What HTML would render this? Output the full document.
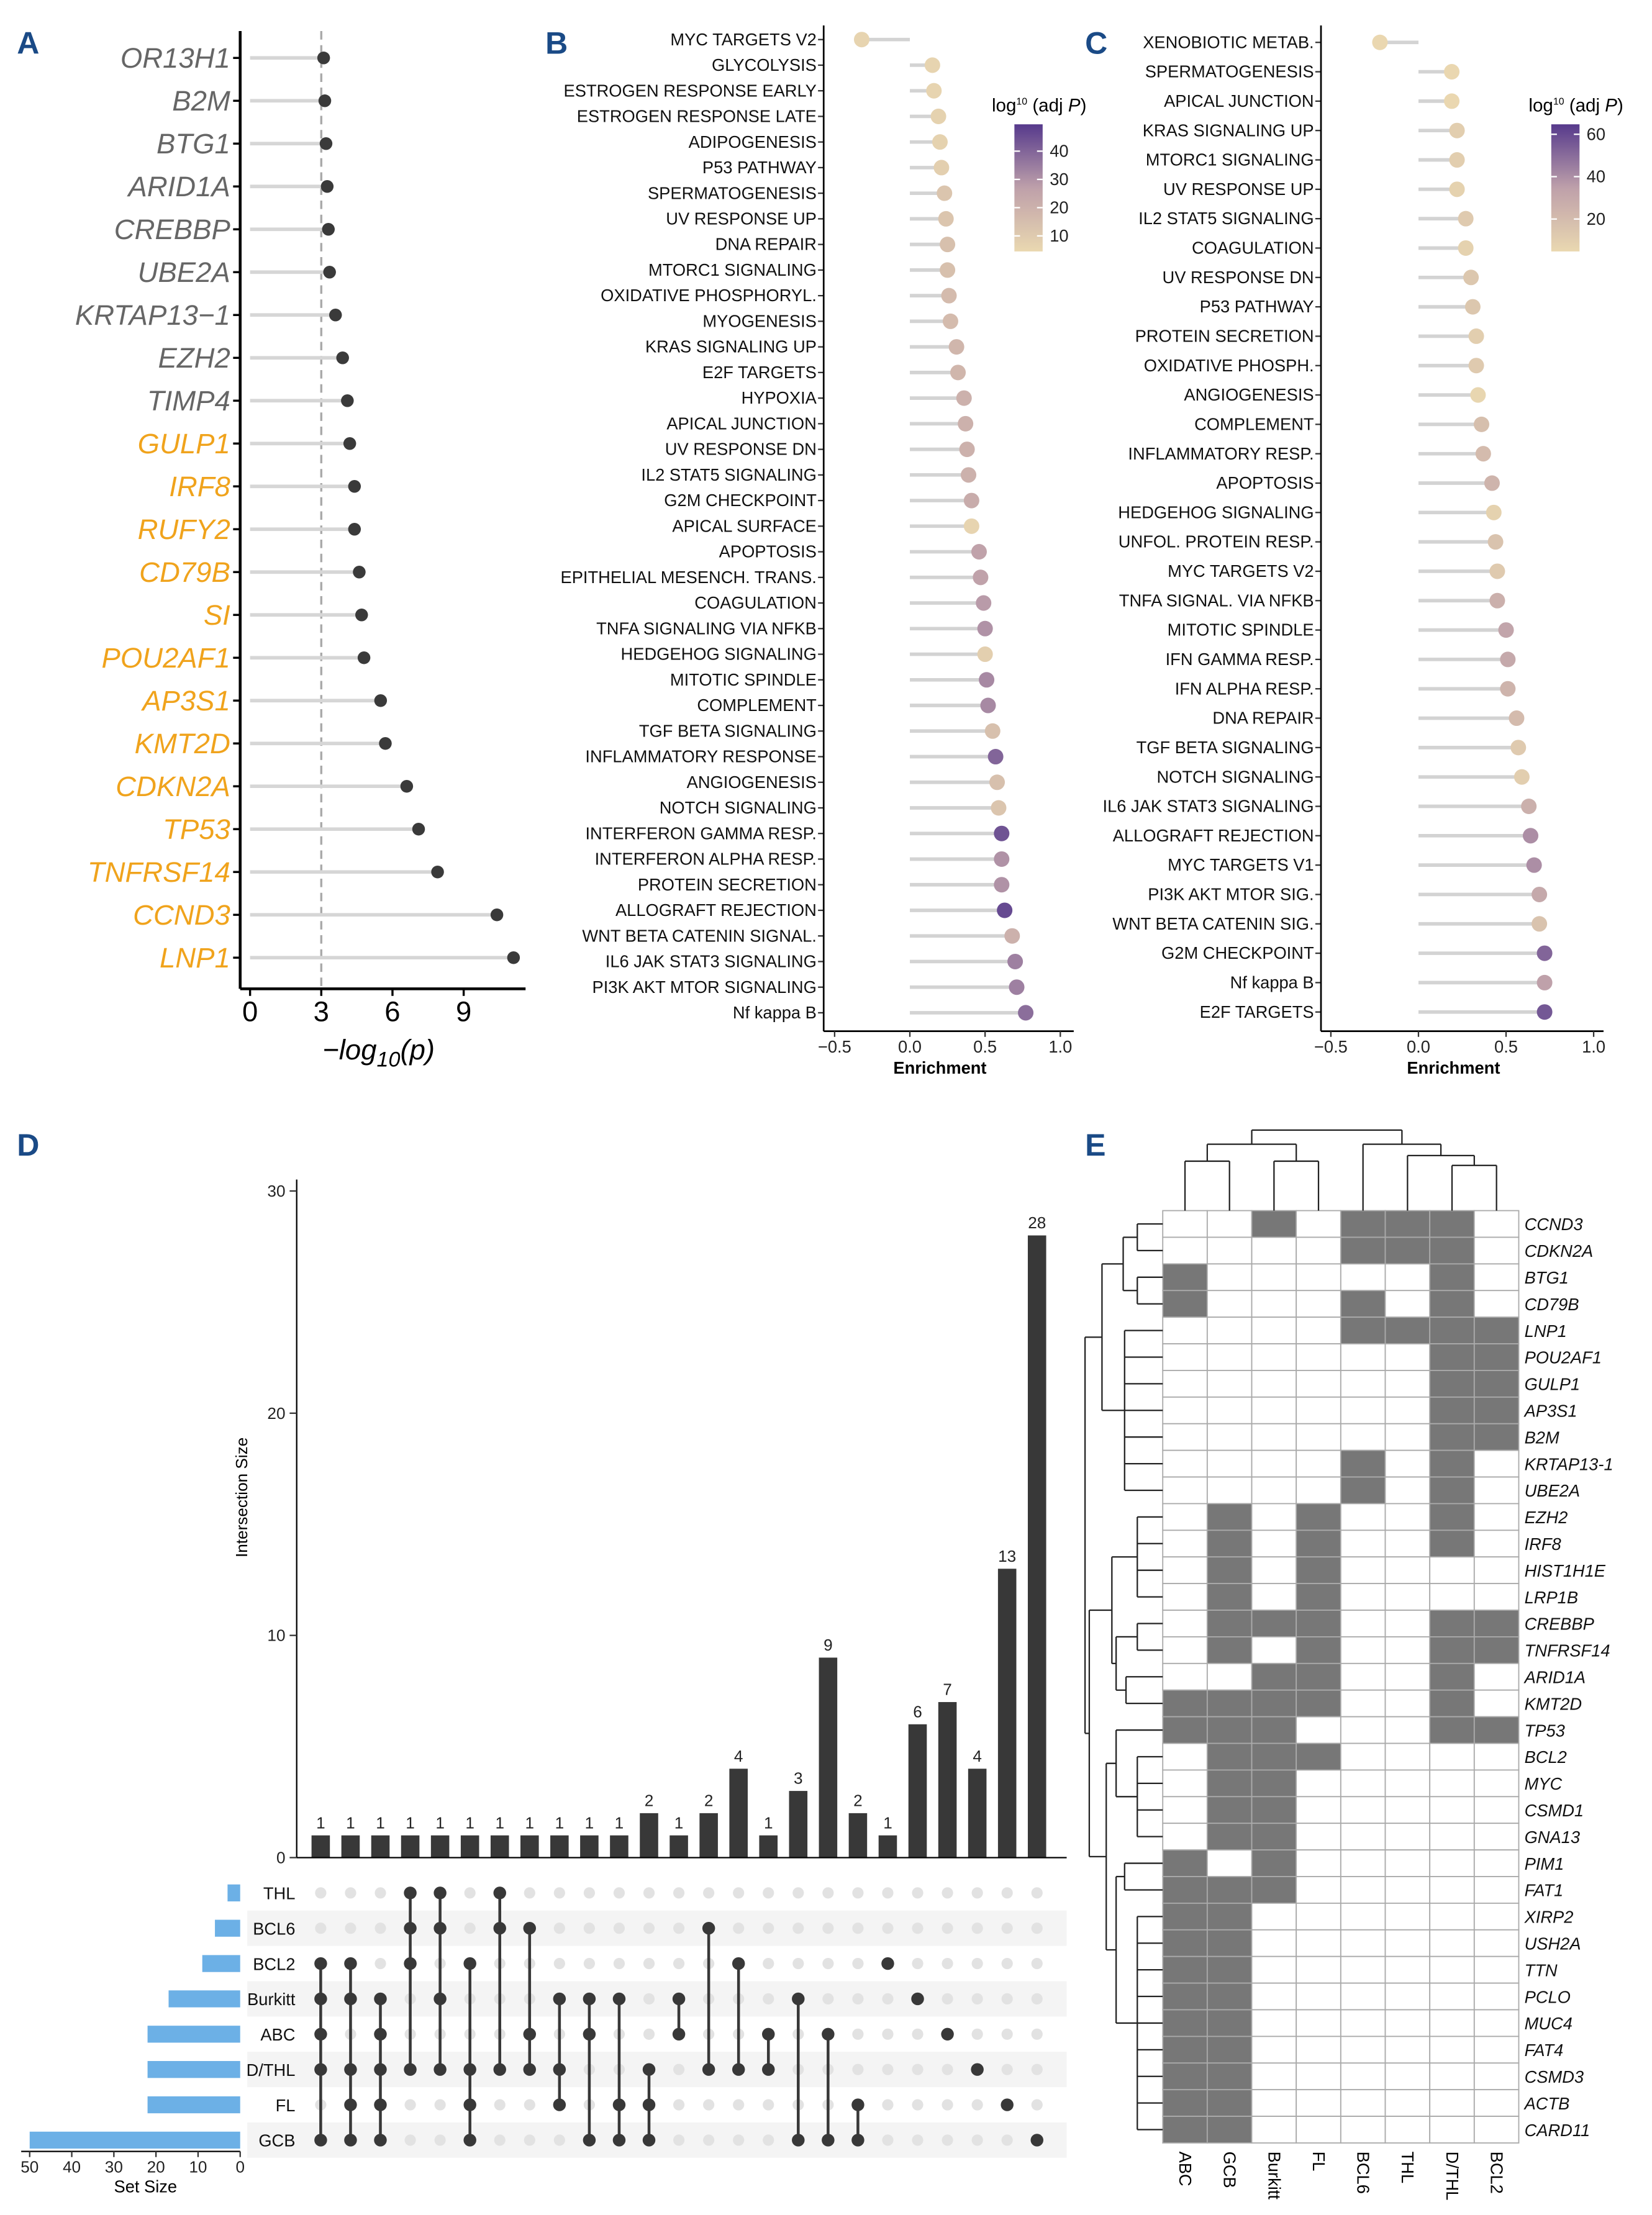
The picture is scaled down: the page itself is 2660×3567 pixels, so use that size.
<!DOCTYPE html>
<html><head><meta charset="utf-8"><style>
html,body{margin:0;padding:0;background:#fff}
svg{display:block;font-family:"Liberation Sans",sans-serif}
</style></head><body>
<svg id="fig" xmlns="http://www.w3.org/2000/svg" width="2660" height="3567" viewBox="0 0 1169.3 1568"></svg>
<script>
// ---------- DATA ----------
const genesA=["OR13H1","B2M","BTG1","ARID1A","CREBBP","UBE2A","KRTAP13−1","EZH2","TIMP4","GULP1","IRF8","RUFY2","CD79B","SI","POU2AF1","AP3S1","KMT2D","CDKN2A","TP53","TNFRSF14","CCND3","LNP1"];
const valuesA=[3.1,3.15,3.2,3.25,3.3,3.35,3.6,3.9,4.1,4.2,4.4,4.4,4.6,4.7,4.8,5.5,5.7,6.6,7.1,7.9,10.4,11.1];
const highlightA=[0,0,0,0,0,0,0,0,0,1,1,1,1,1,1,1,1,1,1,1,1,1];
const ticksA=[0,3,6,9];

const labelsB=["MYC TARGETS V2","GLYCOLYSIS","ESTROGEN RESPONSE EARLY","ESTROGEN RESPONSE LATE","ADIPOGENESIS","P53 PATHWAY","SPERMATOGENESIS","UV RESPONSE UP","DNA REPAIR","MTORC1 SIGNALING","OXIDATIVE PHOSPHORYL.","MYOGENESIS","KRAS SIGNALING UP","E2F TARGETS","HYPOXIA","APICAL JUNCTION","UV RESPONSE DN","IL2 STAT5 SIGNALING","G2M CHECKPOINT","APICAL SURFACE","APOPTOSIS","EPITHELIAL MESENCH. TRANS.","COAGULATION","TNFA SIGNALING VIA NFKB","HEDGEHOG SIGNALING","MITOTIC SPINDLE","COMPLEMENT","TGF BETA SIGNALING","INFLAMMATORY RESPONSE","ANGIOGENESIS","NOTCH SIGNALING","INTERFERON GAMMA RESP.","INTERFERON ALPHA RESP.","PROTEIN SECRETION","ALLOGRAFT REJECTION","WNT BETA CATENIN SIGNAL.","IL6 JAK STAT3 SIGNALING","PI3K AKT MTOR SIGNALING","Nf kappa B"];
const enrichB=[-0.32,0.15,0.16,0.19,0.2,0.21,0.23,0.24,0.25,0.25,0.26,0.27,0.31,0.32,0.36,0.37,0.38,0.39,0.41,0.41,0.46,0.47,0.49,0.5,0.5,0.51,0.52,0.55,0.57,0.58,0.59,0.61,0.61,0.61,0.63,0.68,0.7,0.71,0.77];
const padjB=[6,6,6,7,7,8,12,12,14,14,16,16,18,18,20,20,20,20,22,6,26,26,28,30,8,32,32,14,40,14,12,44,30,30,46,20,34,34,38];
const legendTicksB=[10,20,30,40];

const labelsC=["XENOBIOTIC METAB.","SPERMATOGENESIS","APICAL JUNCTION","KRAS SIGNALING UP","MTORC1 SIGNALING","UV RESPONSE UP","IL2 STAT5 SIGNALING","COAGULATION","UV RESPONSE DN","P53 PATHWAY","PROTEIN SECRETION","OXIDATIVE PHOSPH.","ANGIOGENESIS","COMPLEMENT","INFLAMMATORY RESP.","APOPTOSIS","HEDGEHOG SIGNALING","UNFOL. PROTEIN RESP.","MYC TARGETS V2","TNFA SIGNAL. VIA NFKB","MITOTIC SPINDLE","IFN GAMMA RESP.","IFN ALPHA RESP.","DNA REPAIR","TGF BETA SIGNALING","NOTCH SIGNALING","IL6 JAK STAT3 SIGNALING","ALLOGRAFT REJECTION","MYC TARGETS V1","PI3K AKT MTOR SIG.","WNT BETA CATENIN SIG.","G2M CHECKPOINT","Nf kappa B","E2F TARGETS"];
const enrichC=[-0.22,0.19,0.19,0.22,0.22,0.22,0.27,0.27,0.3,0.31,0.33,0.33,0.34,0.36,0.37,0.42,0.43,0.44,0.45,0.45,0.5,0.51,0.51,0.56,0.57,0.59,0.63,0.64,0.66,0.69,0.69,0.72,0.72,0.72];
const padjC=[5,5,5,10,10,8,12,8,14,14,10,12,6,18,20,24,8,16,12,26,32,30,24,20,12,10,26,40,40,30,16,52,34,56];
const legendTicksC=[20,40,60];
const enrichTicks=[-0.5,0,0.5,1.0];
const enrichTickLabels=["−0.5","0.0","0.5","1.0"];

const setNames=["THL","BCL6","BCL2","Burkitt","ABC","D/THL","FL","GCB"];
const setSizes=[3,6,9,17,22,22,22,50];
const setTicks=[50,40,30,20,10,0];
const interSets=[
 ["BCL2","Burkitt","ABC","D/THL","GCB"],["BCL2","Burkitt","D/THL","FL","GCB"],["Burkitt","ABC","D/THL","FL","GCB"],
 ["THL","BCL6","BCL2","D/THL"],["THL","BCL6","Burkitt","D/THL"],["BCL2","D/THL","FL","GCB"],["THL","BCL6","D/THL"],
 ["BCL6","ABC","D/THL"],["Burkitt","D/THL","FL"],["Burkitt","ABC","GCB"],["Burkitt","FL","GCB"],["D/THL","FL","GCB"],
 ["Burkitt","ABC"],["BCL6","D/THL"],["BCL2","D/THL"],["ABC","D/THL"],["Burkitt","GCB"],["ABC","GCB"],["FL","GCB"],
 ["BCL2"],["Burkitt"],["ABC"],["D/THL"],["FL"],["GCB"]];
const interValues=[1,1,1,1,1,1,1,1,1,1,1,2,1,2,4,1,3,9,2,1,6,7,4,13,28];
const interTicks=[0,10,20,30];

const hmCols=["ABC","GCB","Burkitt","FL","BCL6","THL","D/THL","BCL2"];
const hmRows=["CCND3","CDKN2A","BTG1","CD79B","LNP1","POU2AF1","GULP1","AP3S1","B2M","KRTAP13-1","UBE2A","EZH2","IRF8","HIST1H1E","LRP1B","CREBBP","TNFRSF14","ARID1A","KMT2D","TP53","BCL2","MYC","CSMD1","GNA13","PIM1","FAT1","XIRP2","USH2A","TTN","PCLO","MUC4","FAT4","CSMD3","ACTB","CARD11"];
const hmValues=[
"00101110","00001110","10000010","10001010","00001111","00000011","00000011","00000011","00000011","00001010","00001010",
"01010010","01010010","01010000","01010000","01110011","01010011","00110010","11110010","11100011","01110000",
"01100000","01100000","01100000","10100000","11100000","11000000","11000000","11000000","11000000","11000000","11000000","11000000","11000000","11000000"];

// ---------- HELPERS ----------
const NS="http://www.w3.org/2000/svg";
const svg=document.getElementById('fig');
function mk(tag,attrs,name,parent){
  const e=document.createElementNS(NS,tag);
  for(const k in attrs)e.setAttribute(k,attrs[k]);
  
  
  (parent||svg).appendChild(e);return e;
}
function txt(x,y,s,attrs,name){const t=mk('text',Object.assign({x:x,y:y},attrs),name);t.textContent=s;return t;}
function lerp(a,b,t){return a+(b-a)*t;}
function colorScale(v,lo,hi){
  let t=Math.max(0,Math.min(1,(v-lo)/(hi-lo)));
  const st=[[234,216,176],[190,160,170],[86,58,140]];
  let a,b,u;if(t<0.5){a=st[0];b=st[1];u=t/0.5}else{a=st[1];b=st[2];u=(t-0.5)/0.5}
  return `rgb(${Math.round(lerp(a[0],b[0],u))},${Math.round(lerp(a[1],b[1],u))},${Math.round(lerp(a[2],b[2],u))})`;
}
const BLUE="#1a4a86";
function panelLabel(x,y,s){txt(x,y,s,{'font-size':22,'font-weight':'bold',fill:BLUE},'panel-label-'+s.toLowerCase());}
panelLabel(12,38,"A");panelLabel(386,38,"B");panelLabel(768,38,"C");panelLabel(12,818,"D");panelLabel(768,818,"E");

// ---------- PANEL A ----------
(function(){
  const xA=v=>177+v*16.8, yA=i=>41+i*30.33;
  mk('line',{x1:xA(3),x2:xA(3),y1:22,y2:700,stroke:'#aaa','stroke-width':1.5,'stroke-dasharray':'6,4'},'threshold-line');
  genesA.forEach((g,i)=>{
    const y=yA(i);
    mk('line',{x1:xA(0),x2:xA(valuesA[i]),y1:y,y2:y,stroke:'#d6d6d6','stroke-width':2.5},'lollipop-stem-a');
    mk('circle',{cx:xA(valuesA[i]),cy:y,r:4.5,fill:'#3a3a3a'},'lollipop-dot-a');
    mk('line',{x1:165,x2:170,y1:y,y2:y,stroke:'#000','stroke-width':1.5},'y-tick-a');
    txt(163,y+7,g,{'text-anchor':'end','font-size':20,'font-style':'italic',fill:highlightA[i]?'#f0a31c':'#666','font-family':'"Liberation Sans Narrow","Liberation Sans",sans-serif'},'gene-label-a');
  });
  mk('line',{x1:170,x2:170,y1:22,y2:700,stroke:'#000','stroke-width':2},'y-axis-a');
  mk('line',{x1:170,x2:372,y1:700,y2:700,stroke:'#000','stroke-width':2},'x-axis-a');
  ticksA.forEach(t=>{
    mk('line',{x1:xA(t),x2:xA(t),y1:700,y2:705,stroke:'#000','stroke-width':1.5},'x-tick-a');
    txt(xA(t),723,String(t),{'text-anchor':'middle','font-size':20,fill:'#000'},'x-tick-label-a');
  });
  const t=txt(268,750,"−log",{'text-anchor':'middle','font-size':20,'font-style':'italic'},'x-axis-title-a');
  const s1=document.createElementNS(NS,'tspan');s1.setAttribute('font-size',15);s1.setAttribute('dy',5);s1.textContent="10";t.appendChild(s1);
  const s2=document.createElementNS(NS,'tspan');s2.setAttribute('dy',-5);s2.textContent="(p)";t.appendChild(s2);
})();

// ---------- PANELS B & C ----------
function enrichPanel(labels,vals,pv,ax,x0,unit,y0,step,bottom,right,lo,hi,legX,legTicks,key){
  const xs=v=>x0+v*unit, ys=i=>y0+i*step;
  labels.forEach((l,i)=>{
    const y=ys(i);
    mk('line',{x1:xs(0),x2:xs(vals[i]),y1:y,y2:y,stroke:'#d3d3d3','stroke-width':2.5},'lollipop-stem-'+key);
    mk('circle',{cx:xs(vals[i]),cy:y,r:5.5,fill:colorScale(pv[i],lo,hi)},'lollipop-dot-'+key);
    mk('line',{x1:ax-4,x2:ax,y1:y,y2:y,stroke:'#333','stroke-width':1},'y-tick-'+key);
    txt(ax-5,y+4,l,{'text-anchor':'end','font-size':12,fill:'#111'},'pathway-label-'+key);
  });
  mk('line',{x1:ax,x2:ax,y1:18,y2:bottom,stroke:'#000','stroke-width':1.2},'y-axis-'+key);
  mk('line',{x1:ax,x2:right,y1:bottom,y2:bottom,stroke:'#000','stroke-width':1.2},'x-axis-'+key);
  enrichTicks.forEach((t,j)=>{
    mk('line',{x1:xs(t),x2:xs(t),y1:bottom,y2:bottom+4,stroke:'#333','stroke-width':1},'x-tick-'+key);
    txt(xs(t),bottom+15,enrichTickLabels[j],{'text-anchor':'middle','font-size':12,fill:'#222'},'x-tick-label-'+key);
  });
  txt(xs(0.2),bottom+30,"Enrichment",{'text-anchor':'middle','font-size':12,'font-weight':'bold'},'x-axis-title-'+key);
  const lt=txt(legX-16,79,"log",{'font-size':13},'legend-title-'+key);
  const a=document.createElementNS(NS,'tspan');a.setAttribute('font-size',7);a.setAttribute('dy',-5);a.textContent="10";lt.appendChild(a);
  const b=document.createElementNS(NS,'tspan');b.setAttribute('dy',5);b.textContent=" (adj ";lt.appendChild(b);
  const c=document.createElementNS(NS,'tspan');c.setAttribute('font-style','italic');c.textContent="P";lt.appendChild(c);
  const d=document.createElementNS(NS,'tspan');d.textContent=")";lt.appendChild(d);
  const gid='grad'+key;
  const defs=mk('defs',{},'defs-'+key);
  const g=mk('linearGradient',{id:gid,x1:0,y1:1,x2:0,y2:0},'legend-gradient-'+key,defs);
  for(let k=0;k<=10;k++){mk('stop',{offset:k/10,'stop-color':colorScale(lo+(hi-lo)*k/10,lo,hi)},'gradient-stop',g);}
  mk('rect',{x:legX,y:88,width:20,height:90,fill:`url(#${gid})`},'legend-colorbar-'+key);
  const ly=v=>178-(v-lo)/(hi-lo)*90;
  legTicks.forEach(t=>{
    mk('line',{x1:legX,x2:legX+4,y1:ly(t),y2:ly(t),stroke:'#fff','stroke-width':1},'legend-tick-'+key);
    mk('line',{x1:legX+16,x2:legX+20,y1:ly(t),y2:ly(t),stroke:'#fff','stroke-width':1},'legend-tick-'+key);
    txt(legX+25,ly(t)+4,String(t),{'font-size':12,fill:'#222'},'legend-tick-label-'+key);
  });
}
enrichPanel(labelsB,enrichB,padjB,583,644,106.5,28,18.13,730,760,4.5,49.5,718,legendTicksB,'b');
enrichPanel(labelsC,enrichC,padjC,935,1004,124,30,20.8,730,1135,4.7,64.7,1098,legendTicksC,'c');

// ---------- PANEL D (UpSet) ----------
(function(){
  const cx=i=>227+i*21.125, yI=v=>1315-v*15.73, rowY=i=>1340+i*25;
  const xS=v=>170-v*2.98;
  setNames.forEach((s,i)=>{ if(i%2===1) mk('rect',{x:175,y:rowY(i)-12.5,width:580,height:25,fill:'#f4f4f4'},'matrix-stripe'); });
  interValues.forEach((v,i)=>{
    mk('rect',{x:cx(i)-6.5,y:yI(v),width:13,height:yI(0)-yI(v),fill:'#383838'},'intersection-bar');
    txt(cx(i),yI(v)-5,String(v),{'text-anchor':'middle','font-size':11.5,fill:'#222'},'intersection-count-label');
  });
  mk('line',{x1:210,x2:210,y1:835,y2:1315,stroke:'#000','stroke-width':1},'intersection-y-axis');
  mk('line',{x1:210,x2:755,y1:1315,y2:1315,stroke:'#000','stroke-width':1},'intersection-baseline');
  interTicks.forEach(t=>{
    mk('line',{x1:205,x2:210,y1:yI(t),y2:yI(t),stroke:'#333'},'intersection-y-tick');
    txt(202,yI(t)+4,String(t),{'text-anchor':'end','font-size':11.5,fill:'#222'},'intersection-y-tick-label');
  });
  txt(0,0,"Intersection Size",{'font-size':11.5,'text-anchor':'middle',transform:'translate(175,1060) rotate(-90)'},'intersection-y-axis-title');
  interSets.forEach((sets,i)=>{
    const idx=sets.map(s=>setNames.indexOf(s));
    setNames.forEach((s,r)=>{ if(idx.indexOf(r)<0) mk('circle',{cx:cx(i),cy:rowY(r),r:4,fill:'#e2e2e2'},'matrix-dot-empty'); });
    if(idx.length>1) mk('line',{x1:cx(i),x2:cx(i),y1:rowY(Math.min(...idx)),y2:rowY(Math.max(...idx)),stroke:'#383838','stroke-width':2},'matrix-connector');
    idx.forEach(r=>mk('circle',{cx:cx(i),cy:rowY(r),r:4.5,fill:'#383838'},'matrix-dot-filled'));
  });
  setNames.forEach((s,i)=>{
    txt(209,rowY(i)+4.5,s,{'text-anchor':'end','font-size':12,fill:'#111'},'set-label');
    mk('rect',{x:xS(setSizes[i]),y:rowY(i)-6,width:xS(0)-xS(setSizes[i]),height:12,fill:'#6cb0e6'},'set-size-bar');
  });
  mk('line',{x1:15,x2:170,y1:1523,y2:1523,stroke:'#000','stroke-width':1},'set-size-axis');
  setTicks.forEach(t=>{
    mk('line',{x1:xS(t),x2:xS(t),y1:1523,y2:1527,stroke:'#333'},'set-size-tick');
    txt(xS(t),1538,String(t),{'text-anchor':'middle','font-size':11.5,fill:'#222'},'set-size-tick-label');
  });
  txt(103,1552,"Set Size",{'text-anchor':'middle','font-size':12},'set-size-axis-title');
})();

// ---------- PANEL E (heatmap) ----------
(function(){
  const L=823,T=857,cw=31.5,rh=660/hmRows.length;
  const colX=j=>L+(j+0.5)*cw, rowY=i=>T+(i+0.5)*rh;
  hmRows.forEach((r,i)=>{
    for(let j=0;j<hmCols.length;j++){
      mk('rect',{x:L+j*cw,y:T+i*rh,width:cw,height:rh,fill:hmValues[i][j]==='1'?'#777':'#fff',stroke:'#aaa','stroke-width':0.8},'heatmap-cell');
    }
    txt(L+8*cw+4,rowY(i)+4.5,r,{'font-size':12,'font-style':'italic',fill:'#111'},'heatmap-row-label');
  });
  hmCols.forEach((c,j)=>{
    txt(0,0,c,{'font-size':12,transform:`translate(${colX(j)-4},${T+660+6}) rotate(90)`},'heatmap-col-label');
  });
  function dpath(d,name){mk('path',{d:d,fill:'none',stroke:'#222','stroke-width':1},name);}
  const colTree=[800,[[810,[[822,[0,1]],[822,[2,3]]]],[810,[4,[818,[5,[825,[6,7]]]]]]]];
  function colNode(n){
    if(typeof n==='number') return {x:colX(n),y:T};
    const ch=n[1].map(colNode);
    ch.forEach(c=>dpath(`M${c.x},${c.y}V${n[0]}`,'column-dendrogram-branch'));
    dpath(`M${ch[0].x},${n[0]}H${ch[ch.length-1].x}`,'column-dendrogram-branch');
    return {x:(ch[0].x+ch[ch.length-1].x)/2,y:n[0]};
  }
  colNode(colTree);
  const rowTree=[768,[[780,[[795,[[805,[0,1]],[805,[2,3]]]],[796,[4,5,6,7,8,9,10]]]],
    [771,[[787,[[805,[11,12,13,14]],[790,[[805,[15,16]],[797,[17,18]]]]]],
          [783,[[790,[19,[805,[20,21,22,23]]]],[790,[[796,[24,25]],[805,[26,27,28,29,30,31,32,33,34]]]]]]]]]];
  function rowNode(n){
    if(typeof n==='number') return {x:L,y:rowY(n)};
    const ch=n[1].map(rowNode);
    ch.forEach(c=>dpath(`M${c.x},${c.y}H${n[0]}`,'row-dendrogram-branch'));
    dpath(`M${n[0]},${ch[0].y}V${ch[ch.length-1].y}`,'row-dendrogram-branch');
    return {x:n[0],y:(ch[0].y+ch[ch.length-1].y)/2};
  }
  rowNode(rowTree);
})();
</script>
</body></html>
